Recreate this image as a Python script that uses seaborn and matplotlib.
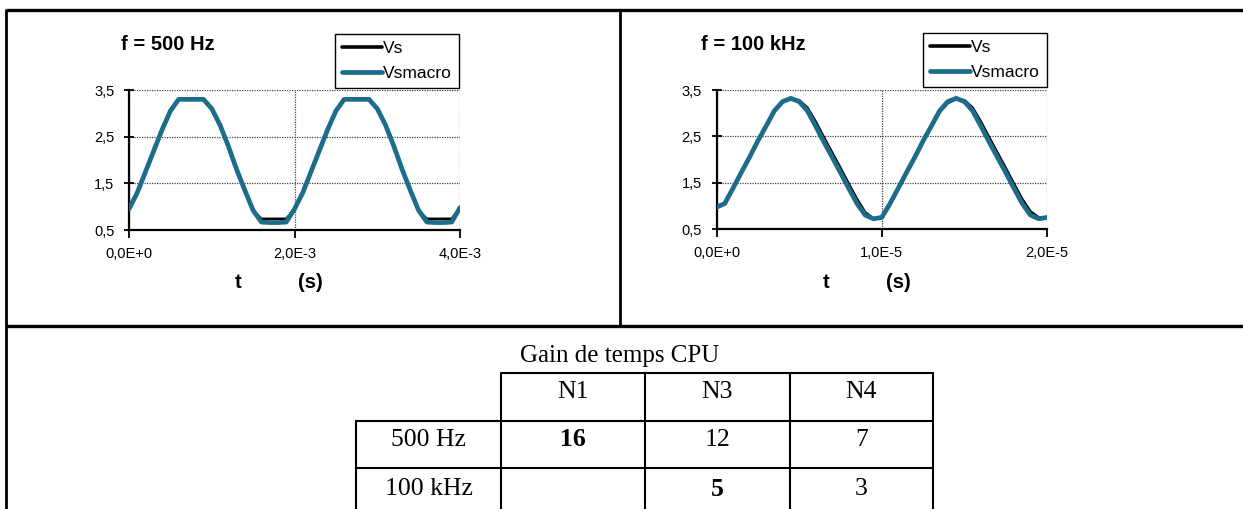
import numpy as np
import pandas as pd
import matplotlib
matplotlib.use("Agg")
import matplotlib.pyplot as plt
import seaborn as sns
from matplotlib.lines import Line2D

sns.set_style("white")
plt.rcParams['font.family'] = ['Liberation Sans', 'DejaVu Sans']
plt.rcParams['text.color'] = 'black'

## data: 500 Hz (t in ms)
t1_ms = [0.0, 0.1, 0.2, 0.3, 0.4, 0.5, 0.6, 0.7, 0.8, 0.9, 1.0,
         1.1, 1.2, 1.3, 1.4, 1.5, 1.6, 1.7, 1.8, 1.9, 2.0,
         2.1, 2.2, 2.3, 2.4, 2.5, 2.6, 2.7, 2.8, 2.9, 3.0,
         3.1, 3.2, 3.3, 3.4, 3.5, 3.6, 3.7, 3.8, 3.9, 4.0]
vs_500 = [0.95, 1.30, 1.75, 2.20, 2.65, 3.05, 3.30, 3.30, 3.30, 3.30, 3.10,
          2.75, 2.30, 1.80, 1.35, 0.92, 0.74, 0.74, 0.74, 0.74, 0.95,
          1.30, 1.75, 2.20, 2.65, 3.05, 3.30, 3.30, 3.30, 3.30, 3.10,
          2.75, 2.30, 1.80, 1.35, 0.92, 0.74, 0.74, 0.74, 0.74, 0.98]
vsmacro_500 = [0.95, 1.30, 1.75, 2.20, 2.65, 3.05, 3.30, 3.30, 3.30, 3.30, 3.10,
               2.75, 2.30, 1.80, 1.35, 0.92, 0.67, 0.66, 0.66, 0.67, 0.95,
               1.30, 1.75, 2.20, 2.65, 3.05, 3.30, 3.30, 3.30, 3.30, 3.10,
               2.75, 2.30, 1.80, 1.35, 0.92, 0.67, 0.66, 0.66, 0.67, 0.98]

## data: 100 kHz (t in 1E-5 s)
t2_e5 = [0.00, 0.05, 0.10, 0.15, 0.20, 0.25, 0.30, 0.35, 0.40, 0.45, 0.50,
         0.55, 0.60, 0.65, 0.70, 0.75, 0.80, 0.85, 0.90, 0.95, 1.00,
         1.05, 1.10, 1.15, 1.20, 1.25, 1.30, 1.35, 1.40, 1.45, 1.50,
         1.55, 1.60, 1.65, 1.70, 1.75, 1.80, 1.85, 1.90, 1.95, 2.00]
vs_100k = [0.97, 1.05, 1.38, 1.72, 2.05, 2.40, 2.72, 3.05, 3.25, 3.30, 3.28,
           3.12, 2.82, 2.48, 2.15, 1.82, 1.48, 1.15, 0.86, 0.73, 0.74,
           1.02, 1.36, 1.70, 2.03, 2.38, 2.70, 3.02, 3.22, 3.30, 3.28,
           3.12, 2.82, 2.48, 2.15, 1.82, 1.48, 1.15, 0.88, 0.75, 0.74]
vsmacro_100k = [0.97, 1.05, 1.38, 1.72, 2.05, 2.40, 2.72, 3.05, 3.25, 3.32, 3.25,
                3.05, 2.72, 2.38, 2.05, 1.72, 1.38, 1.05, 0.80, 0.72, 0.75,
                1.05, 1.38, 1.72, 2.05, 2.40, 2.72, 3.05, 3.25, 3.32, 3.25,
                3.05, 2.72, 2.38, 2.05, 1.72, 1.38, 1.05, 0.80, 0.72, 0.75]

y_ticks = [0.5, 1.5, 2.5, 3.5]
y_labels = ['0,5', '1,5', '2,5', '3,5']
x1_ticks = [0.0, 2e-3, 4e-3]
x1_labels = ['0,0E+0', '2,0E-3', '4,0E-3']
x2_ticks = [0.0, 1e-5, 2e-5]
x2_labels = ['0,0E+0', '1,0E-5', '2,0E-5']
series_names = ['Vs', 'Vsmacro']

## table: Gain de temps CPU
table_title = 'Gain de temps CPU'
col_names = ['N1', 'N3', 'N4']
row_names = ['500 Hz', '100 kHz']
cells = [['16', '12', '7'], ['', '5', '3']]
bold_cells = [[True, False, False], [False, True, False]]

W, H = 1243, 509
teal = '#1d6c8a'
fig = plt.figure(figsize=(W / 100, H / 100), dpi=100)

# background axes in pixel coords for frame and table
bg = fig.add_axes([0, 0, 1, 1])
bg.set_xlim(0, W)
bg.set_ylim(H, 0)
bg.axis('off')
bg.plot([6, W], [10, 10], color='black', lw=2.4, solid_capstyle='butt')
bg.plot([6.5, 6.5], [9, H], color='black', lw=2.0, solid_capstyle='butt')
bg.plot([6, W], [326, 326], color='black', lw=2.4, solid_capstyle='butt')
bg.plot([620, 620], [10, 326], color='black', lw=2.0, solid_capstyle='butt')

serif = ['Liberation Serif', 'DejaVu Serif']
bg.text(620, 356, table_title, ha='center', va='center', fontsize=18, family=serif)
col_x = [356, 501, 645, 790, 933]
row_y = [373, 421, 468, 516]
tlw = 1.5
bg.plot([col_x[1], col_x[-1]], [row_y[0], row_y[0]], color='black', lw=tlw)
for y in row_y[1:3]:
    bg.plot([col_x[0], col_x[-1]], [y, y], color='black', lw=tlw)
bg.plot([col_x[0], col_x[0]], [row_y[1], row_y[-1]], color='black', lw=tlw)
for x in col_x[1:]:
    bg.plot([x, x], [row_y[0], row_y[-1]], color='black', lw=tlw)
text_y = [392, 440, 489]
for j, c in enumerate(col_names):
    bg.text((col_x[j + 1] + col_x[j + 2]) / 2, text_y[0], c, ha='center', va='center',
            fontsize=18.5, family=serif)
for i, r in enumerate(row_names):
    bg.text((col_x[0] + col_x[1]) / 2, text_y[i + 1], r, ha='center', va='center',
            fontsize=18.5, family=serif)
    for j, v in enumerate(cells[i]):
        bg.text((col_x[j + 1] + col_x[j + 2]) / 2, text_y[i + 1], v, ha='center', va='center',
                fontsize=18.5, family=serif, fontweight='bold' if bold_cells[i][j] else 'normal')


def make_panel(x0, x1, y0, y1, t, vs, vsm, xt, xl, xmax, title, title_x, leg_x, leg_y, tx, sx):
    ax = fig.add_axes([x0 / W, 1 - y1 / H, (x1 - x0) / W, (y1 - y0) / H])
    df = pd.DataFrame({'t': t, 'Vs': vs, 'Vsmacro': vsm})
    sns.lineplot(data=df, x='t', y='Vs', ax=ax, color='black', lw=1.8, zorder=3)
    sns.lineplot(data=df, x='t', y='Vsmacro', ax=ax, color=teal, lw=3.4, zorder=4)
    ax.set_xlim(0, xmax)
    ax.set_ylim(0.5, 3.5)
    ax.set_xticks(xt, xl)
    ax.set_yticks(y_ticks, y_labels)
    ax.set_xlabel('')
    ax.set_ylabel('')
    ax.grid(True, ls=(0, (1, 1)), color='#444444', lw=0.9)
    for s in ['top', 'right']:
        ax.spines[s].set_visible(False)
    for s in ['left', 'bottom']:
        ax.spines[s].set_color('black')
        ax.spines[s].set_linewidth(1.6)
    ax.tick_params(axis='y', direction='inout', length=7, width=1.3, pad=7, labelsize=10.5,
                   left=True, colors='black')
    ax.tick_params(axis='x', direction='out', length=6, width=1.3, pad=6, labelsize=10.5,
                   bottom=True, colors='black')
    handles = [Line2D([], [], color='black', lw=2.6), Line2D([], [], color=teal, lw=3.4)]
    leg = fig.legend(handles, series_names, loc='upper left',
                     bbox_to_anchor=(leg_x / W, 1 - leg_y / H), bbox_transform=fig.transFigure,
                     fancybox=False, edgecolor='black', framealpha=1, fontsize=12.5,
                     handlelength=2.3, handletextpad=0.05, labelspacing=0.55,
                     borderpad=0.4, borderaxespad=0)
    leg.get_frame().set_linewidth(1.0)
    fig.text(title_x / W, 1 - 45 / H, title, fontsize=14.5, fontweight='bold',
             ha='left', va='center')
    fig.text(tx / W, 1 - 282 / H, 't', fontsize=14.5, fontweight='bold', ha='center', va='center')
    fig.text(sx / W, 1 - 282 / H, '(s)', fontsize=14.5, fontweight='bold', ha='center', va='center')
    return ax


t1 = [v * 1e-3 for v in t1_ms]
t2 = [v * 1e-5 for v in t2_e5]
make_panel(129, 460, 90, 230, t1, vs_500, vsmacro_500, x1_ticks, x1_labels, 4e-3,
           'f = 500 Hz', 121, 335, 34, 238, 310)
make_panel(716.5, 1047, 90, 229, t2, vs_100k, vsmacro_100k, x2_ticks, x2_labels, 2e-5,
           'f = 100 kHz', 701, 923, 33, 826, 898)

plt.savefig('out.png', dpi=100)
